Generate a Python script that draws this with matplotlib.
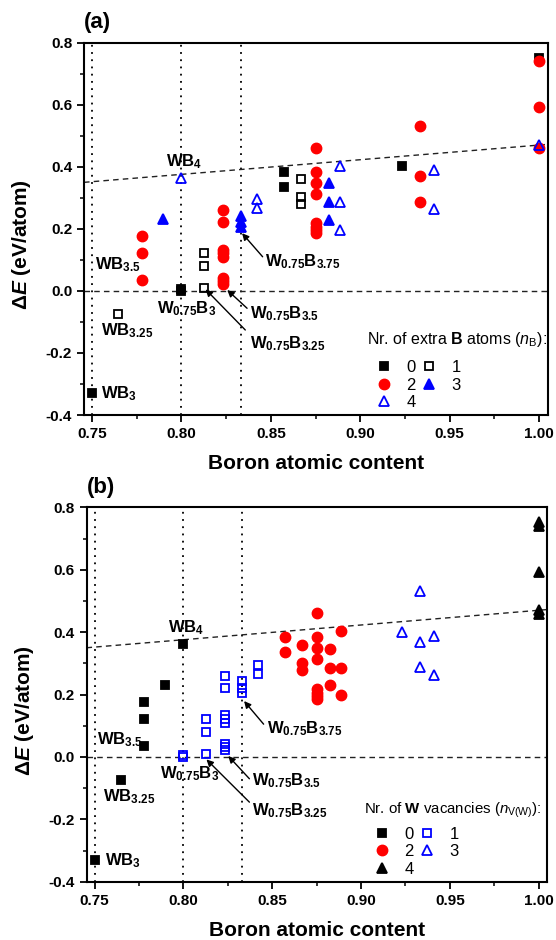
import matplotlib
matplotlib.use("Agg")
import matplotlib.pyplot as plt
from matplotlib.ticker import MultipleLocator, FormatStrFormatter

plt.rcParams['font.family'] = ['Liberation Sans', 'DejaVu Sans']
plt.rcParams['mathtext.fontset'] = 'custom'
plt.rcParams['mathtext.rm'] = 'Liberation Sans'
plt.rcParams['mathtext.it'] = 'Liberation Sans:italic'
plt.rcParams['mathtext.bf'] = 'Liberation Sans:bold'
plt.rcParams['mathtext.bfit'] = 'Liberation Sans:italic:bold'
plt.rcParams['axes.unicode_minus'] = False

# boron atomic content, formation energy (eV/atom),
# number of extra B atoms and number of W vacancies per structure
boron_content = [
    0.7500, 0.7647, 0.7778, 0.7778, 0.7778, 0.7895, 0.8000,
    0.8000, 0.8000, 0.8125, 0.8125, 0.8125,
    0.8235, 0.8235, 0.8235, 0.8235, 0.8235, 0.8235, 0.8235, 0.8235,
    0.8333, 0.8333, 0.8333, 0.8421, 0.8421,
    0.8571, 0.8571, 0.8667, 0.8667, 0.8667,
    0.8750, 0.8750, 0.8750, 0.8750, 0.8750, 0.8750, 0.8750, 0.8750,
    0.8824, 0.8824, 0.8824, 0.8889, 0.8889, 0.8889,
    0.9231, 0.9333, 0.9333, 0.9333, 0.9412, 0.9412,
    1.0000, 1.0000, 1.0000, 1.0000, 1.0000,
]
delta_e = [
    -0.330, -0.075, 0.176, 0.122, 0.035, 0.232, 0.363,
    0.000, 0.006, 0.123, 0.080, 0.010,
    0.260, 0.222, 0.133, 0.121, 0.108, 0.043, 0.032, 0.023,
    0.243, 0.222, 0.206, 0.296, 0.266,
    0.384, 0.335, 0.360, 0.302, 0.280,
    0.460, 0.383, 0.348, 0.313, 0.218, 0.205, 0.195, 0.186,
    0.347, 0.285, 0.229, 0.404, 0.285, 0.197,
    0.401, 0.532, 0.369, 0.287, 0.389, 0.264,
    0.752, 0.740, 0.592, 0.459, 0.471,
]
n_extra_b = [
    0, 1, 2, 2, 2, 3, 4,
    0, 0, 1, 1, 1,
    2, 2, 2, 2, 2, 2, 2, 2,
    3, 3, 3, 4, 4,
    0, 0, 1, 1, 1,
    2, 2, 2, 2, 2, 2, 2, 2,
    3, 3, 3, 4, 4, 4,
    0, 2, 2, 2, 4, 4,
    0, 2, 2, 2, 4,
]
n_vac_w = [
    0, 0, 0, 0, 0, 0, 0,
    1, 1, 1, 1, 1,
    1, 1, 1, 1, 1, 1, 1, 1,
    1, 1, 1, 1, 1,
    2, 2, 2, 2, 2,
    2, 2, 2, 2, 2, 2, 2, 2,
    2, 2, 2, 2, 2, 2,
    3, 3, 3, 3, 3, 3,
    4, 4, 4, 4, 4,
]
group_labels = ['0', '1', '2', '3', '4']

# reference line (two points it passes through) and marked compositions
hull_line = [(0.75, 0.352), (1.0, 0.470)]
special_x = [0.75, 0.80, 0.8333]

# marker styles per group
sq = dict(marker='s', ms=5.5, mew=1.3)
ci = dict(marker='o', ms=7.5, mew=1.0)
tr = dict(marker='^', ms=7.5, mew=1.3)
styles_b = [
    dict(sq, mfc='k', mec='k'),
    dict(sq, mfc='none', mec='k'),
    dict(ci, mfc='#ff0000', mec='#ff0000'),
    dict(tr, mfc='#0000ff', mec='#0000ff'),
    dict(tr, mfc='none', mec='#0000ff'),
]
styles_v = [
    dict(sq, mfc='k', mec='k'),
    dict(sq, mfc='none', mec='#0000ff'),
    dict(ci, mfc='#ff0000', mec='#ff0000'),
    dict(tr, mfc='none', mec='#0000ff'),
    dict(tr, mfc='k', mec='k'),
]

# text labels: (text, x, y) and arrow labels: (text, x, y, tail, head)
labels_a = [
    ('WB$_\\mathbf{4}$', 0.7913, 0.400),
    ('WB$_\\mathbf{3.5}$', 0.7515, 0.068),
    ('WB$_\\mathbf{3.25}$', 0.7552, -0.142),
    ('WB$_\\mathbf{3}$', 0.7552, -0.346),
    ('W$_\\mathbf{0.75}$B$_\\mathbf{3}$', 0.7863, -0.072),
]
arrows_a = [
    ('W$_\\mathbf{0.75}$B$_\\mathbf{3.75}$', 0.8469, 0.078, (0.8454, 0.110), (0.8339, 0.186)),
    ('W$_\\mathbf{0.75}$B$_\\mathbf{3.5}$', 0.8385, -0.088, (0.8367, -0.056), (0.8256, 0.003)),
    ('W$_\\mathbf{0.75}$B$_\\mathbf{3.25}$', 0.8385, -0.185, (0.8357, -0.126), (0.8135, 0.005)),
]
labels_b = [
    ('WB$_\\mathbf{4}$', 0.7913, 0.401),
    ('WB$_\\mathbf{3.5}$', 0.7513, 0.041),
    ('WB$_\\mathbf{3.25}$', 0.7550, -0.142),
    ('WB$_\\mathbf{3}$', 0.7560, -0.348),
    ('W$_\\mathbf{0.75}$B$_\\mathbf{3}$', 0.7866, -0.070),
]
arrows_b = [
    ('W$_\\mathbf{0.75}$B$_\\mathbf{3.75}$', 0.8470, 0.075, (0.8452, 0.105), (0.8342, 0.179)),
    ('W$_\\mathbf{0.75}$B$_\\mathbf{3.5}$', 0.8387, -0.091, (0.8372, -0.070), (0.8253, 0.003)),
    ('W$_\\mathbf{0.75}$B$_\\mathbf{3.25}$', 0.8387, -0.186, (0.8372, -0.145), (0.8130, -0.008)),
]


def draw_panel(ax, groups, styles, labels, arrows, title, tag,
               title_pos, title_size, leg_x):
    for v in special_x:
        ax.axvline(v, color='k', lw=1.3, ls=(0, (1, 3)), zorder=1)
    ax.axhline(0.0, color='#222222', lw=1.0, ls=(0, (4, 3)), zorder=1)
    ax.axline(hull_line[0], hull_line[1], color='#222222', lw=1.0,
              ls=(0, (4, 3)), zorder=1)

    handles = []
    for g in range(5):
        xs = [x for x, k in zip(boron_content, groups) if k == g]
        ys = [y for y, k in zip(delta_e, groups) if k == g]
        h, = ax.plot(xs, ys, ls='none', zorder=3, **styles[g])
        handles.append(h)

    for text, x, y in labels:
        ax.text(x, y, text, fontsize=12, fontweight='bold', va='baseline')
    for text, x, y, tail, head in arrows:
        ax.text(x, y, text, fontsize=12, fontweight='bold', va='baseline')
        ax.annotate('', xy=head, xytext=tail,
                    arrowprops=dict(arrowstyle='-|>', color='k', lw=1.0,
                                    mutation_scale=10, shrinkA=0, shrinkB=0))

    # legend title drawn as separate text, entries as 2-column legend
    ax.text(title_pos[0], title_pos[1], title, transform=ax.transAxes,
            fontsize=title_size, va='baseline', ha='left')
    order = [0, 2, 4, 1, 3]
    ax.legend([handles[i] for i in order], [group_labels[i] for i in order],
              ncol=2, loc='lower left', bbox_to_anchor=(leg_x, 0.0),
              frameon=False, fontsize=12, handlelength=1.0,
              handletextpad=0.85, columnspacing=0.3, labelspacing=0.15,
              borderpad=0.3, borderaxespad=0.0)

    ax.set_xlim(0.7455, 1.005)
    ax.set_ylim(-0.4, 0.8)
    ax.xaxis.set_major_locator(MultipleLocator(0.05))
    ax.xaxis.set_minor_locator(MultipleLocator(0.025))
    ax.yaxis.set_major_locator(MultipleLocator(0.2))
    ax.yaxis.set_minor_locator(MultipleLocator(0.1))
    ax.xaxis.set_major_formatter(FormatStrFormatter('%.2f'))
    ax.yaxis.set_major_formatter(FormatStrFormatter('%.1f'))
    ax.tick_params(which='major', direction='out', length=5, width=1.3,
                   labelsize=11, top=False, right=False)
    ax.tick_params(which='minor', direction='out', length=3, width=1.1,
                   top=False, right=False)
    for lab in ax.get_xticklabels() + ax.get_yticklabels():
        lab.set_fontweight('bold')
    for s in ax.spines.values():
        s.set_linewidth(1.5)
    ax.set_xlabel('Boron atomic content', fontsize=15, fontweight='bold')
    ax.xaxis.set_label_coords(0.5, -0.105)
    ax.set_ylabel('$\\mathbf{\\Delta}\\mathbfit{E}$ (eV/atom)', fontsize=15,
                  fontweight='bold')
    ax.yaxis.set_label_coords(-0.11, 0.457)
    ax.text(0.0, 1.025, tag, transform=ax.transAxes, fontsize=16,
            fontweight='bold', va='bottom', ha='left')


fig = plt.figure(figsize=(5.56, 9.40), dpi=100)
ax_a = fig.add_axes([0.1511, 0.5585, 0.8345, 0.3961])
ax_b = fig.add_axes([0.1556, 0.0620, 0.8291, 0.3983])

draw_panel(ax_a, n_extra_b, styles_b, labels_a, arrows_a,
           'Nr. of extra $\\mathbf{B}$ atoms ($n_\\mathrm{B}$):', '(a)',
           (0.61, 0.191), 11.5, 0.618)
draw_panel(ax_b, n_vac_w, styles_v, labels_b, arrows_b,
           'Nr. of $\\mathbf{W}$ vacancies ($n_\\mathrm{V(W)}$):', '(b)',
           (0.603, 0.181), 10.8, 0.612)

fig.savefig('out.png', dpi=100)
